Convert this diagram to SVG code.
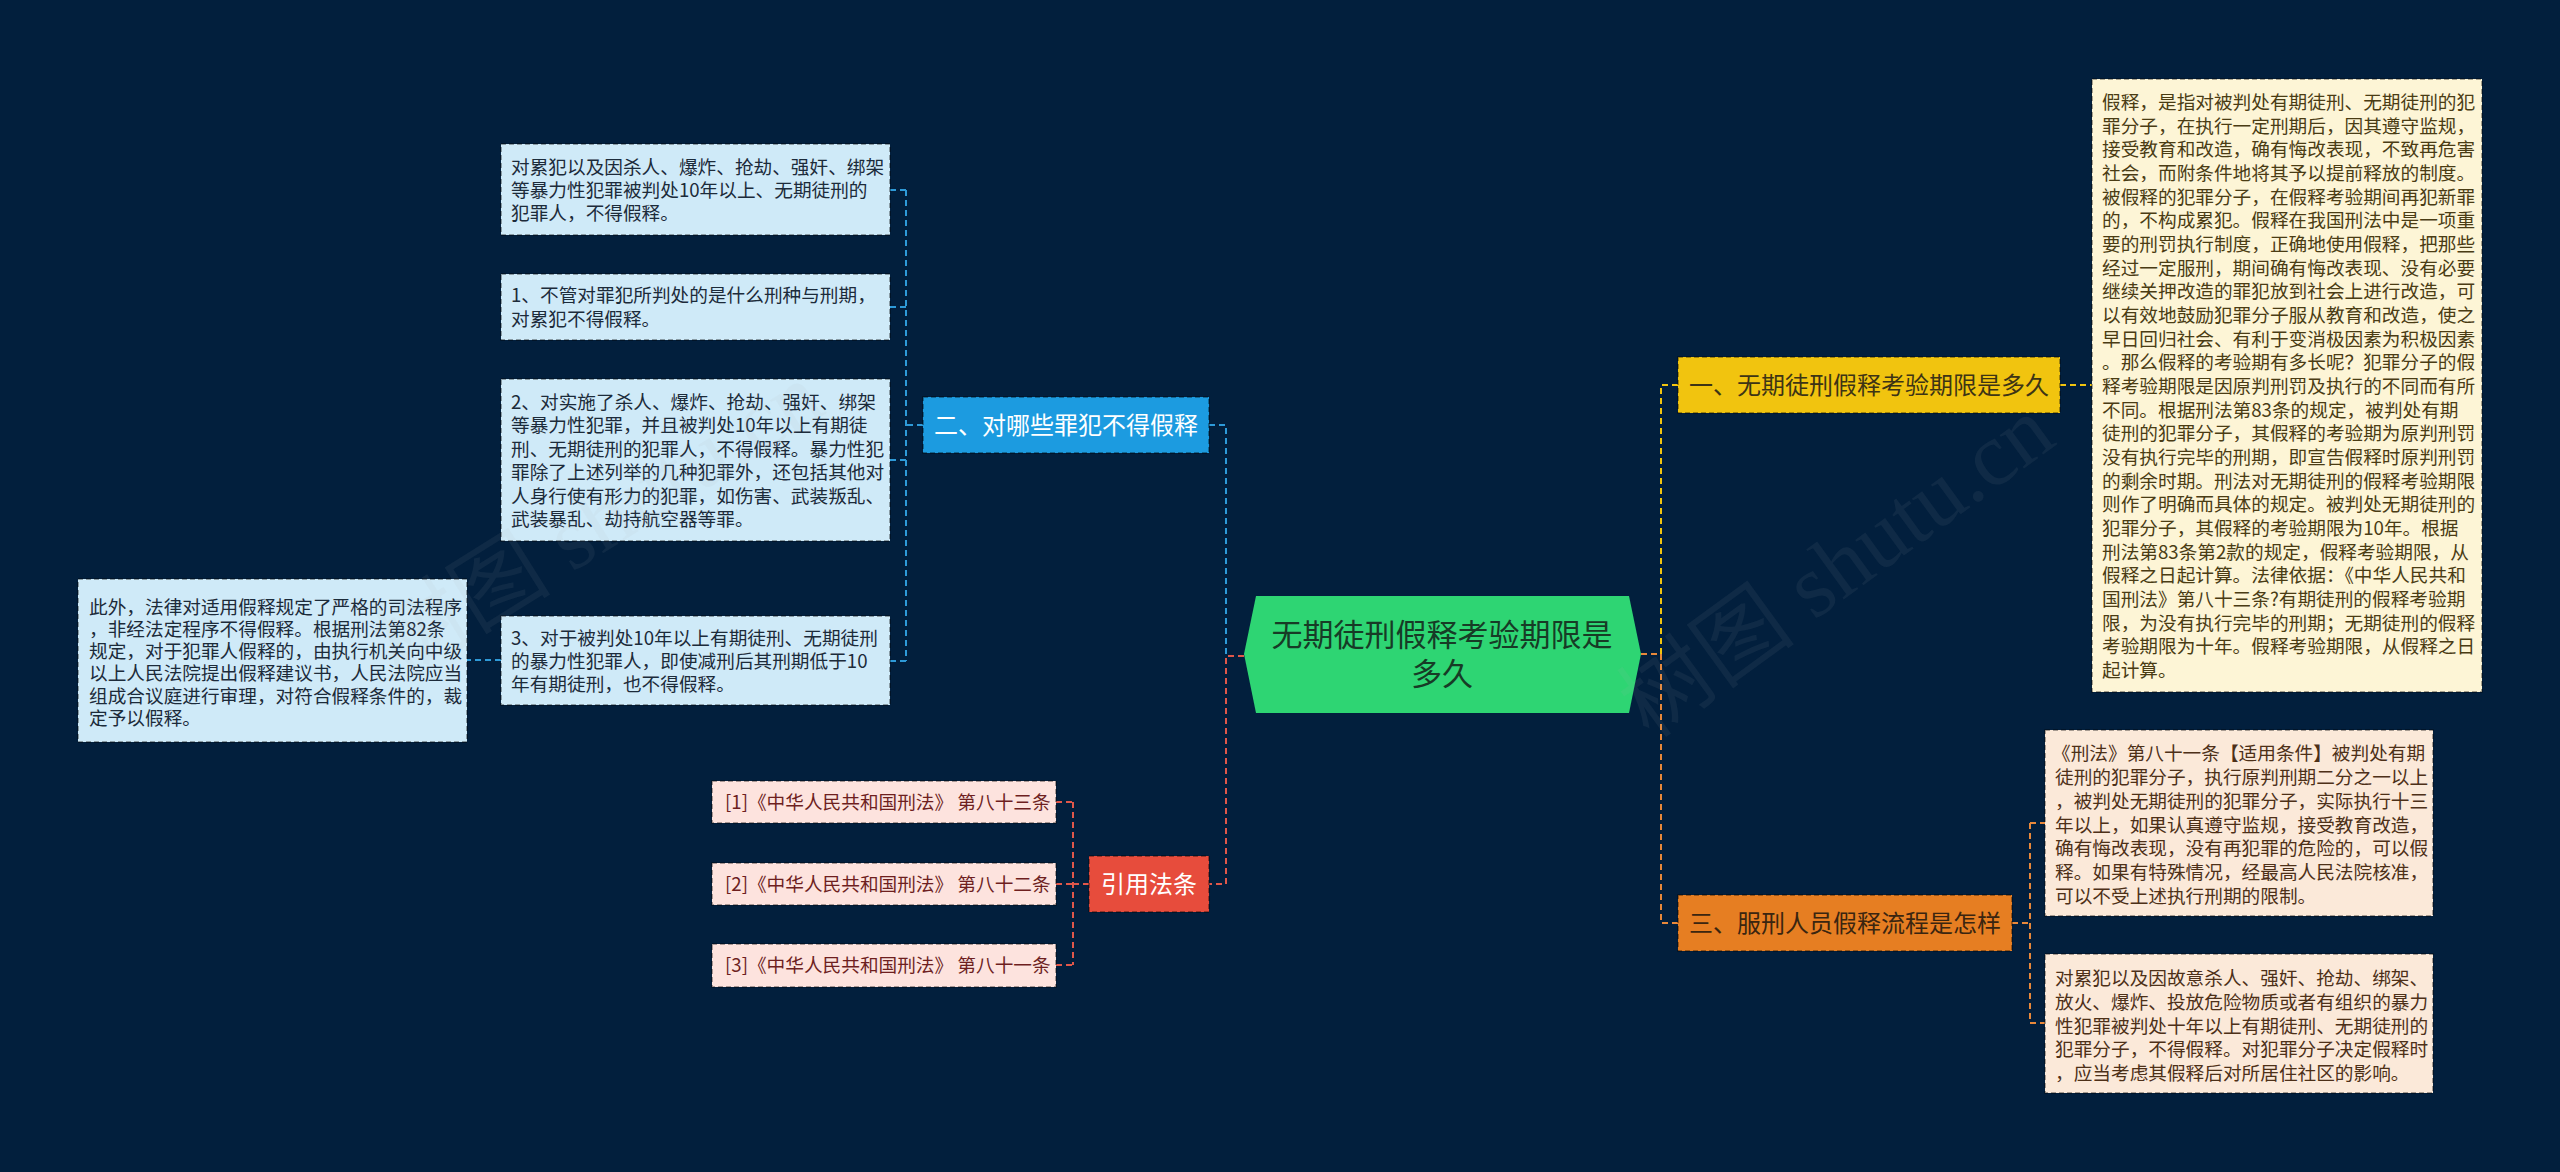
<svg xmlns="http://www.w3.org/2000/svg" width="2560" height="1172" viewBox="0 0 2560 1172">
<style>
.cn{font-family:"Noto Sans CJK SC","Noto Sans",sans-serif}
.body{font-size:18.67px}
.br{font-size:24px;text-anchor:middle}
.box{stroke:#000;stroke-opacity:0.45;stroke-width:1.5;stroke-dasharray:5 3}
.lb{fill:#cfeaf8}
.ly{fill:#fdf5d6}
.lo{fill:#fbe9d9}
.lr{fill:#fde3de}
.tb{fill:#1c2b3a}
.ty{fill:#4a3c14}
.to{fill:#4d3018}
.tr{fill:#6e1f1f}
.c{fill:none;stroke-width:2;stroke-dasharray:6 4}
.cb{stroke:#2e9ad8}
.cr{stroke:#e0574a}
.cy{stroke:#f1c40f}
.co{stroke:#e8883a}
.wm{font-family:"Liberation Serif",serif;font-size:90px;fill:#b0b0b0;fill-opacity:0.08}
</style>
<rect x="0" y="0" width="2560" height="1172" fill="#021f3d"/>

<g id="connectors">
<path class="c cb" d="M1244 656 H1226 V425 H1209"/>
<path class="c cr" d="M1244 656 H1226 V884 H1209"/>
<path class="c cy" d="M1641 654 H1661 V385 H1678"/>
<path class="c co" d="M1641 654 H1661 V923 H1678"/>
<path class="c cb" d="M923 425 H906 M906 190 V661 M890 190 H906 M890 307 H906 M890 460 H906 M890 661 H906 M501 660 H467"/>
<path class="c cr" d="M1089 884 H1073 M1073 802 V965 M1056 802 H1073 M1056 884 H1073 M1056 965 H1073"/>
<path class="c cy" d="M2060 385 H2092"/>
<path class="c co" d="M2012 923 H2030 M2030 823 V1023 M2030 823 H2045 M2030 1023 H2045"/>
</g>

<g id="center">
<polygon points="1256,596 1629,596 1641,654 1629,713 1256,713 1244,654" fill="#2ed573"/>
<text class="cn" x="1442" y="646" font-size="31" text-anchor="middle" fill="#173b26">无期徒刑假释考验期限是</text>
<text class="cn" x="1442" y="685" font-size="31" text-anchor="middle" fill="#173b26">多久</text>
</g>

<g id="branch-yellow">
<rect class="box" x="1678" y="357" width="382" height="56" fill="#f1c40f"/>
<text class="cn br" x="1869" y="394" fill="#3d3415">一、无期徒刑假释考验期限是多久</text>
</g>
<g id="branch-blue">
<rect class="box" x="923" y="397" width="286" height="56" fill="#1c9be0"/>
<text class="cn br" x="1066" y="434" fill="#ffffff">二、对哪些罪犯不得假释</text>
</g>
<g id="branch-orange">
<rect class="box" x="1678" y="895" width="334" height="56" fill="#e67e22"/>
<text class="cn br" x="1845" y="932" fill="#3a2510">三、服刑人员假释流程是怎样</text>
</g>
<g id="branch-red">
<rect class="box" x="1089" y="856" width="120" height="56" fill="#e74c3c"/>
<text class="cn br" x="1149" y="893" fill="#ffffff">引用法条</text>
</g>

<g id="leaf-yellow">
<rect class="box ly" x="2092" y="79" width="390" height="613"/>
<g class="cn body ty">
<text x="2102" y="109">假释，是指对被判处有期徒刑、无期徒刑的犯</text>
<text x="2102" y="132.7">罪分子，在执行一定刑期后，因其遵守监规，</text>
<text x="2102" y="156.3">接受教育和改造，确有悔改表现，不致再危害</text>
<text x="2102" y="180">社会，而附条件地将其予以提前释放的制度。</text>
<text x="2102" y="203.7">被假释的犯罪分子，在假释考验期间再犯新罪</text>
<text x="2102" y="227.4">的，不构成累犯。假释在我国刑法中是一项重</text>
<text x="2102" y="251">要的刑罚执行制度，正确地使用假释，把那些</text>
<text x="2102" y="274.7">经过一定服刑，期间确有悔改表现、没有必要</text>
<text x="2102" y="298.4">继续关押改造的罪犯放到社会上进行改造，可</text>
<text x="2102" y="322">以有效地鼓励犯罪分子服从教育和改造，使之</text>
<text x="2102" y="345.7">早日回归社会、有利于变消极因素为积极因素</text>
<text x="2102" y="369.4">。那么假释的考验期有多长呢？犯罪分子的假</text>
<text x="2102" y="393">释考验期限是因原判刑罚及执行的不同而有所</text>
<text x="2102" y="416.7">不同。根据刑法第83条的规定，被判处有期</text>
<text x="2102" y="440.4">徒刑的犯罪分子，其假释的考验期为原判刑罚</text>
<text x="2102" y="464">没有执行完毕的刑期，即宣告假释时原判刑罚</text>
<text x="2102" y="487.7">的剩余时期。刑法对无期徒刑的假释考验期限</text>
<text x="2102" y="511.4">则作了明确而具体的规定。被判处无期徒刑的</text>
<text x="2102" y="535">犯罪分子，其假释的考验期限为10年。根据</text>
<text x="2102" y="558.7">刑法第83条第2款的规定，假释考验期限，从</text>
<text x="2102" y="582.4">假释之日起计算。法律依据：《中华人民共和</text>
<text x="2102" y="606">国刑法》第八十三条?有期徒刑的假释考验期</text>
<text x="2102" y="629.7">限，为没有执行完毕的刑期；无期徒刑的假释</text>
<text x="2102" y="653.4">考验期限为十年。假释考验期限，从假释之日</text>
<text x="2102" y="677">起计算。</text>
</g>
</g>

<g id="leaf-blue-1">
<rect class="box lb" x="501" y="144" width="389" height="91"/>
<g class="cn body tb">
<text x="511" y="174">对累犯以及因杀人、爆炸、抢劫、强奸、绑架</text>
<text x="511" y="197">等暴力性犯罪被判处10年以上、无期徒刑的</text>
<text x="511" y="220">犯罪人，不得假释。</text>
</g>
</g>
<g id="leaf-blue-2">
<rect class="box lb" x="501" y="274" width="389" height="66"/>
<g class="cn body tb">
<text x="511" y="302">1、不管对罪犯所判处的是什么刑种与刑期，</text>
<text x="511" y="325.5">对累犯不得假释。</text>
</g>
</g>
<g id="leaf-blue-3">
<rect class="box lb" x="501" y="379" width="389" height="162"/>
<g class="cn body tb">
<text x="511" y="408.5">2、对实施了杀人、爆炸、抢劫、强奸、绑架</text>
<text x="511" y="432">等暴力性犯罪，并且被判处10年以上有期徒</text>
<text x="511" y="455.5">刑、无期徒刑的犯罪人，不得假释。暴力性犯</text>
<text x="511" y="479">罪除了上述列举的几种犯罪外，还包括其他对</text>
<text x="511" y="502.5">人身行使有形力的犯罪，如伤害、武装叛乱、</text>
<text x="511" y="526">武装暴乱、劫持航空器等罪。</text>
</g>
</g>
<g id="leaf-blue-4">
<rect class="box lb" x="501" y="616" width="389" height="89"/>
<g class="cn body tb">
<text x="511" y="644.5">3、对于被判处10年以上有期徒刑、无期徒刑</text>
<text x="511" y="667.5">的暴力性犯罪人，即使减刑后其刑期低于10</text>
<text x="511" y="690.5">年有期徒刑，也不得假释。</text>
</g>
</g>
<g id="leaf-blue-5">
<rect class="box lb" x="78" y="579" width="389" height="163"/>
<g class="cn body tb">
<text x="89" y="613.5">此外，法律对适用假释规定了严格的司法程序</text>
<text x="89" y="635.8">，非经法定程序不得假释。根据刑法第82条</text>
<text x="89" y="658.1">规定，对于犯罪人假释的，由执行机关向中级</text>
<text x="89" y="680.4">以上人民法院提出假释建议书，人民法院应当</text>
<text x="89" y="702.7">组成合议庭进行审理，对符合假释条件的，裁</text>
<text x="89" y="725">定予以假释。</text>
</g>
</g>

<g id="leaf-red-1">
<rect class="box lr" x="712" y="781" width="344" height="42"/>
<text class="cn body tr" x="725" y="809">[1]《中华人民共和国刑法》 第八十三条</text>
</g>
<g id="leaf-red-2">
<rect class="box lr" x="712" y="863" width="344" height="42"/>
<text class="cn body tr" x="725" y="891">[2]《中华人民共和国刑法》 第八十二条</text>
</g>
<g id="leaf-red-3">
<rect class="box lr" x="712" y="944" width="344" height="43"/>
<text class="cn body tr" x="725" y="972">[3]《中华人民共和国刑法》 第八十一条</text>
</g>

<g id="leaf-orange-1">
<rect class="box lo" x="2045" y="730" width="388" height="186"/>
<g class="cn body to">
<text x="2052" y="760">《刑法》第八十一条【适用条件】被判处有期</text>
<text x="2055" y="783.8">徒刑的犯罪分子，执行原判刑期二分之一以上</text>
<text x="2055" y="807.7">，被判处无期徒刑的犯罪分子，实际执行十三</text>
<text x="2055" y="831.5">年以上，如果认真遵守监规，接受教育改造，</text>
<text x="2055" y="855.3">确有悔改表现，没有再犯罪的危险的，可以假</text>
<text x="2055" y="879.2">释。如果有特殊情况，经最高人民法院核准，</text>
<text x="2055" y="903">可以不受上述执行刑期的限制。</text>
</g>
</g>
<g id="leaf-orange-2">
<rect class="box lo" x="2045" y="954" width="388" height="139"/>
<g class="cn body to">
<text x="2055" y="985">对累犯以及因故意杀人、强奸、抢劫、绑架、</text>
<text x="2055" y="1008.8">放火、爆炸、投放危险物质或者有组织的暴力</text>
<text x="2055" y="1032.5">性犯罪被判处十年以上有期徒刑、无期徒刑的</text>
<text x="2055" y="1056.3">犯罪分子，不得假释。对犯罪分子决定假释时</text>
<text x="2055" y="1080">，应当考虑其假释后对所居住社区的影响。</text>
</g>
</g>

<g id="watermark">
<text class="wm" transform="translate(400,680) rotate(-32)"><tspan class="cn">树图</tspan> shutu.cn</text>
<text class="wm" transform="translate(1650,740) rotate(-36)"><tspan class="cn">树图</tspan> shutu.cn</text>
</g>
</svg>
